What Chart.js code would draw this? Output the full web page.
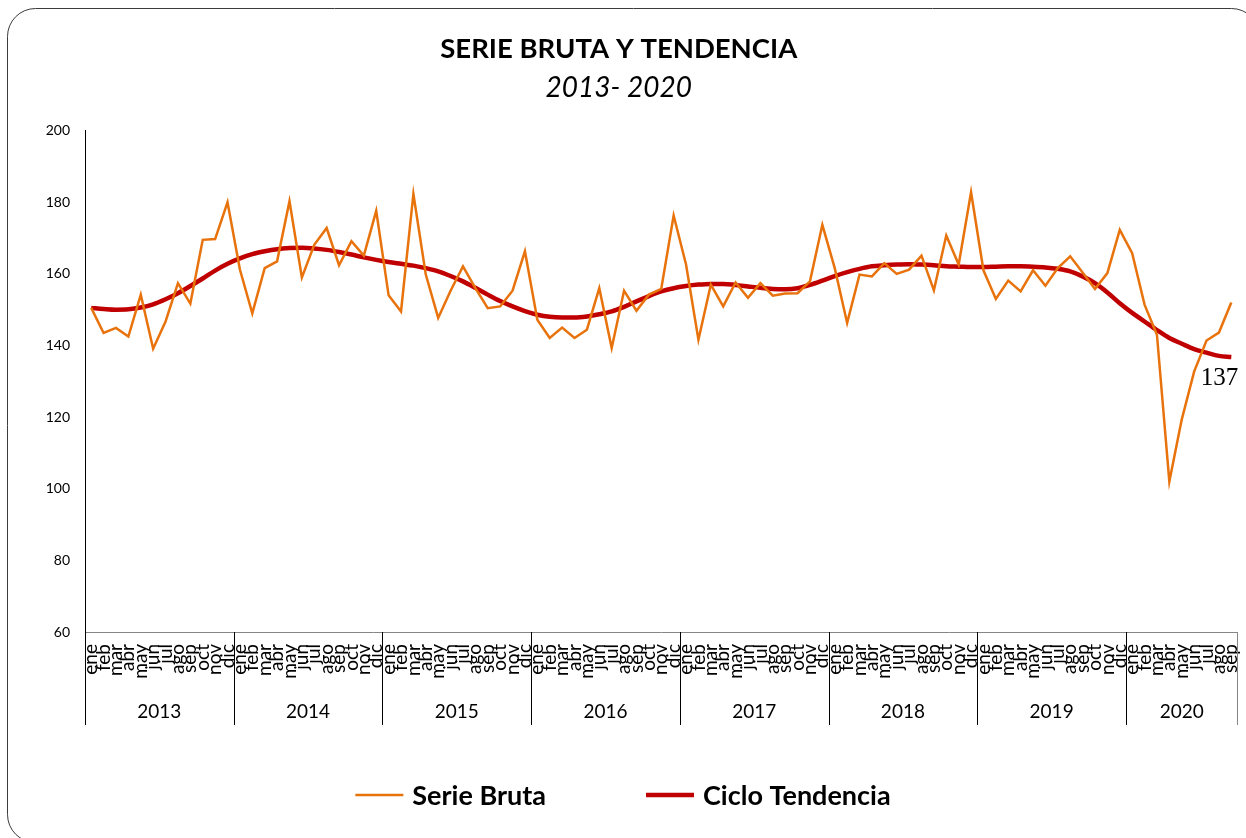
<!DOCTYPE html>
<html><head><meta charset="utf-8">
<script src="https://cdn.jsdelivr.net/npm/chart.js@4.4.0/dist/chart.umd.min.js"></script>
<style>html,body{margin:0;padding:0;background:#fff}</style>
</head><body>
<canvas id="c" width="1246" height="838"></canvas>
<script>
const months = ['ene','feb','mar','abr','may','jun','jul','ago','sep','oct','nov','dic'];
const years = ['2013','2014','2015','2016','2017','2018','2019','2020'];
const yTicks = [60,80,100,120,140,160,180,200];
const serieBruta = [
  150.5,143.5,144.9,142.5,154.2,139.1,146.7,157.4,151.7,169.5,169.7,180.0,
  161.2,149.0,161.6,163.5,180.3,159.0,168.1,172.8,162.4,169.1,165.1,177.6,
  154.0,149.5,182.3,159.8,147.7,155.3,162.1,156.0,150.4,150.9,155.3,166.3,
  147.2,142.1,145.0,142.1,144.4,156.0,139.3,155.3,149.7,154.2,155.8,176.3,
  162.6,141.6,157.0,150.9,157.6,153.3,157.4,153.9,154.5,154.6,157.9,173.7,
  161.6,146.3,159.8,159.3,163.0,160.0,161.2,165.1,155.4,170.7,162.6,182.8,
  161.0,153.0,158.1,155.1,161.0,156.7,161.6,164.9,160.4,155.8,160.2,172.3,
  165.8,151.4,143.0,102.0,119.3,132.7,141.4,143.6,152.0
];
const cicloTendencia = [
  150.5,150.2,150.0,150.1,150.6,151.5,152.9,154.6,156.6,158.7,160.9,162.8,
  164.3,165.5,166.3,166.9,167.2,167.3,167.1,166.7,166.1,165.4,164.6,163.9,
  163.3,162.8,162.3,161.6,160.7,159.4,157.9,156.1,154.2,152.4,150.9,149.6,
  148.6,148.0,147.8,147.8,148.1,148.7,149.5,150.8,152.3,153.8,155.1,156.0,
  156.6,157.0,157.2,157.2,156.9,156.5,156.1,155.8,155.7,156.0,156.9,158.1,
  159.4,160.5,161.4,162.1,162.4,162.6,162.7,162.6,162.4,162.1,162.0,161.9,
  161.9,162.0,162.1,162.1,162.0,161.8,161.4,160.7,159.3,157.4,154.8,151.8,
  149.1,146.7,144.3,142.1,140.5,139.0,138.0,137.1,136.8
];
const labels = serieBruta.map((v, i) => months[i % 12]);

const X_SCALE_H = 93;

const frame = {
  id: 'frame',
  beforeDraw(chart) {
    const ctx = chart.ctx;
    ctx.save();
    ctx.fillStyle = '#fff';
    ctx.fillRect(0, 0, chart.width, chart.height);
    ctx.strokeStyle = '#3c3c3c';
    ctx.lineWidth = 1;
    ctx.beginPath();
    ctx.roundRect(7.5, 8.5, 1252, 834, 28);
    ctx.stroke();
    ctx.restore();
  }
};

const yearAxis = {
  id: 'yearAxis',
  afterDraw(chart) {
    const xs = chart.scales.x;
    const ctx = chart.ctx;
    const n = chart.data.labels.length;
    const step = xs.getPixelForValue(1) - xs.getPixelForValue(0);
    const top = xs.top, bottom = xs.top + X_SCALE_H;
    ctx.save();
    ctx.lineWidth = 1;
    ctx.font = '19px Lato';
    ctx.fillStyle = '#000';
    ctx.textAlign = 'center';
    ctx.textBaseline = 'middle';
    let r = 0;
    years.forEach((yr, k) => {
      const first = k * 12;
      const last = Math.min(first + 11, n - 1);
      const l = xs.getPixelForValue(first) - step / 2;
      r = xs.getPixelForValue(last) + step / 2;
      const lx = Math.round(l) + 0.5;
      ctx.strokeStyle = '#000';
      ctx.beginPath(); ctx.moveTo(lx, top); ctx.lineTo(lx, bottom); ctx.stroke();
      ctx.fillText(yr, (l + r) / 2, 712);
    });
    const rx = Math.round(r) - 0.5;
    ctx.strokeStyle = '#868686';
    ctx.beginPath(); ctx.moveTo(rx, top); ctx.lineTo(rx, bottom); ctx.stroke();
    ctx.restore();
  }
};

const endLabel = {
  id: 'endLabel',
  afterDatasetsDraw(chart) {
    const meta = chart.getDatasetMeta(1);
    const data = chart.data.datasets[1].data;
    const pt = meta.data[data.length - 1];
    const ctx = chart.ctx;
    ctx.save();
    ctx.font = '25px "Liberation Serif"';
    ctx.fillStyle = '#000';
    ctx.textAlign = 'right';
    ctx.textBaseline = 'middle';
    ctx.fillText(String(Math.round(data[data.length - 1])), pt.x + 7, pt.y + 21);
    ctx.restore();
  }
};

const bottomLegend = {
  id: 'bottomLegend',
  afterDraw(chart) {
    const ctx = chart.ctx;
    const ds = chart.data.datasets;
    const lineW = 48, gap = 9, itemGap = 100, y = 795;
    ctx.save();
    ctx.font = 'bold 27px Lato';
    const widths = ds.map(d => ctx.measureText(d.label).width);
    const total = widths.reduce((a, w) => a + lineW + gap + w, 0) + itemGap * (ds.length - 1);
    let x = chart.width / 2 - total / 2;
    ds.forEach((d, i) => {
      ctx.strokeStyle = d.borderColor;
      ctx.lineWidth = d.borderWidth;
      ctx.beginPath(); ctx.moveTo(x, y); ctx.lineTo(x + lineW, y); ctx.stroke();
      ctx.fillStyle = '#000';
      ctx.textAlign = 'left';
      ctx.textBaseline = 'middle';
      ctx.fillText(d.label, x + lineW + gap, y + 1);
      x += lineW + gap + widths[i] + itemGap;
    });
    ctx.restore();
  }
};

new Chart(document.getElementById('c'), {
  type: 'line',
  data: {
    labels: labels,
    datasets: [
      { label: 'Serie Bruta', data: serieBruta, borderColor: '#E8720C', borderWidth: 2.5,
        pointRadius: 0, tension: 0, fill: false },
      { label: 'Ciclo Tendencia', data: cicloTendencia, borderColor: '#C00000', borderWidth: 4.5,
        pointRadius: 0, tension: 0.4, cubicInterpolationMode: 'monotone', fill: false }
    ]
  },
  options: {
    responsive: false,
    animation: false,
    devicePixelRatio: 1,
    layout: { padding: { left: 0, right: 8.5, top: 0, bottom: 113 } },
    plugins: {
      legend: { display: false },
      tooltip: { enabled: false },
      title: { display: true, text: 'SERIE BRUTA Y TENDENCIA', color: '#000',
        font: { family: 'Lato', size: 27.5, weight: 'bold' }, padding: { top: 33, bottom: 3 } },
      subtitle: { display: true, text: '2013- 2020', color: '#000',
        font: { family: 'Lato', size: 28, style: 'italic' }, padding: { top: 2, bottom: 26 } }
    },
    scales: {
      x: {
        type: 'category',
        offset: true,
        grid: { display: false, drawTicks: false },
        border: { display: true, color: '#868686', width: 1 },
        ticks: { autoSkip: false, minRotation: 90, maxRotation: 90, padding: 12,
          color: '#000', font: { family: 'Lato', size: 19 } },
        afterFit(scale) { scale.height = X_SCALE_H; scale.paddingLeft = 0; scale.paddingRight = 0; }
      },
      y: {
        min: 60, max: 200,
        grid: { display: false, drawTicks: false },
        border: { display: true, color: '#000', width: 1 },
        ticks: { padding: 15, color: '#000', font: { family: 'Lato', size: 14 } },
        afterBuildTicks(scale) { scale.ticks = yTicks.map(v => ({ value: v })); },
        afterFit(scale) { scale.width = 85; scale.paddingTop = 0; scale.paddingBottom = 0; }
      }
    }
  },
  plugins: [frame, yearAxis, endLabel, bottomLegend]
});
</script>
</body></html>
